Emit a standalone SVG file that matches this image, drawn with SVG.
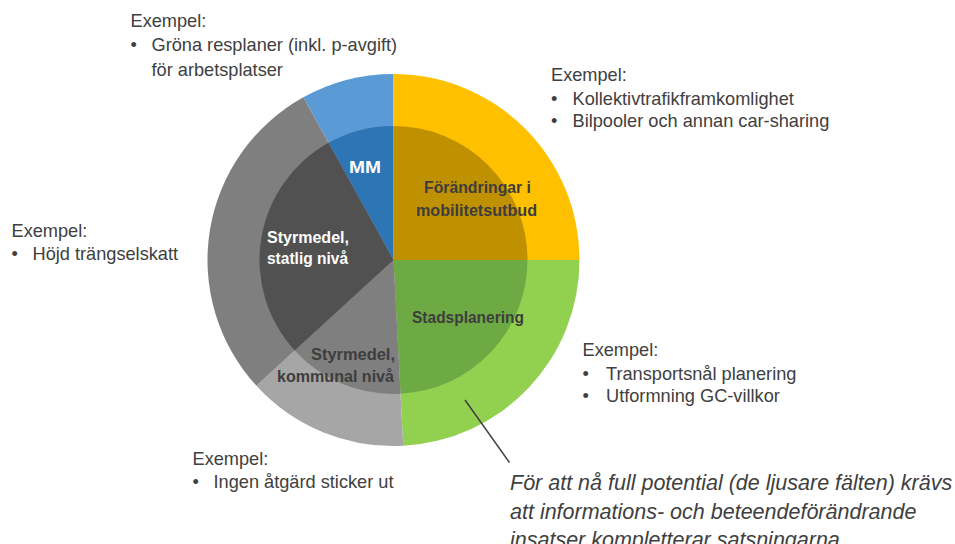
<svg xmlns="http://www.w3.org/2000/svg" width="955" height="544" viewBox="0 0 955 544">
  <style>
    .ex { font-family: "Liberation Sans", Arial, sans-serif; font-size: 18.2px; fill: #404040; }
    .lbl { font-family: "Liberation Sans", Arial, sans-serif; font-size: 16px; font-weight: bold; }
    .light { fill: #ffffff; }
    .dark { fill: #3d3d3d; }
    .note { font-family: "Liberation Sans", Arial, sans-serif; font-size: 21.5px; font-style: italic; fill: #404040; }
  </style>
  <rect width="955" height="544" fill="#ffffff"/>

  <!-- Two-ring pie: light outer wedges (full potential) and darker inner wedges -->
  <g id="mm">
    <path d="M393.5 260 L303.33 97.32 A186 186 0 0 1 393.5 74 Z" fill="#5b9bd5"/>
    <path d="M393.5 260 L328.54 142.8 A134 134 0 0 1 393.5 126 Z" fill="#2e75b6"/>
    <text class="lbl light" x="365" y="173" text-anchor="middle" textLength="32" lengthAdjust="spacingAndGlyphs">MM</text>
  </g>

  <g id="mobilitetsutbud">
    <path d="M393.5 260 L393.5 74 A186 186 0 0 1 579.5 260 Z" fill="#ffc000"/>
    <path d="M393.5 260 L393.5 126 A134 134 0 0 1 527.5 260 Z" fill="#bf9000"/>
    <text class="lbl dark" x="477.5" y="193" text-anchor="middle" textLength="107" lengthAdjust="spacingAndGlyphs">Förändringar i</text>
    <text class="lbl dark" x="476.5" y="215.5" text-anchor="middle" textLength="121" lengthAdjust="spacingAndGlyphs">mobilitetsutbud</text>
  </g>

  <g id="stadsplanering">
    <path d="M393.5 260 L579.5 260 A186 186 0 0 1 403.24 445.75 Z" fill="#92d050"/>
    <path d="M393.5 260 L527.5 260 A134 134 0 0 1 400.51 393.82 Z" fill="#6eaa44"/>
    <text class="lbl dark" x="468" y="323" text-anchor="middle" textLength="112" lengthAdjust="spacingAndGlyphs">Stadsplanering</text>
  </g>

  <g id="styrmedel-kommunal">
    <path d="M393.5 260 L403.24 445.75 A186 186 0 0 1 256.37 385.66 Z" fill="#a6a6a6"/>
    <path d="M393.5 260 L400.51 393.82 A134 134 0 0 1 294.7 350.53 Z" fill="#7f7f7f"/>
    <text class="lbl dark" x="353" y="360" text-anchor="middle" textLength="84" lengthAdjust="spacingAndGlyphs">Styrmedel,</text>
    <text class="lbl dark" x="335.5" y="381.5" text-anchor="middle" textLength="117" lengthAdjust="spacingAndGlyphs">kommunal nivå</text>
  </g>

  <g id="styrmedel-statlig">
    <path d="M393.5 260 L256.37 385.66 A186 186 0 0 1 303.33 97.32 Z" fill="#7f7f7f"/>
    <path d="M393.5 260 L294.7 350.53 A134 134 0 0 1 328.54 142.8 Z" fill="#515151"/>
    <text class="lbl light" x="308" y="242.5" text-anchor="middle" textLength="82" lengthAdjust="spacingAndGlyphs">Styrmedel,</text>
    <text class="lbl light" x="307.5" y="263.5" text-anchor="middle" textLength="81" lengthAdjust="spacingAndGlyphs">statlig nivå</text>
  </g>

  <!-- Example lists beside each wedge -->
  <g id="ex-mm">
    <text class="ex" x="130.5" y="26.5">Exempel:</text>
    <text class="ex" x="130.5" y="50.5">•</text>
    <text class="ex" x="151.5" y="50.5">Gröna resplaner (inkl. p-avgift)</text>
    <text class="ex" x="151.5" y="76">för arbetsplatser</text>
  </g>
  <g id="ex-mobilitet">
    <text class="ex" x="551" y="80.5">Exempel:</text>
    <text class="ex" x="551" y="105">•</text>
    <text class="ex" x="572.5" y="105">Kollektivtrafikframkomlighet</text>
    <text class="ex" x="551" y="127">•</text>
    <text class="ex" x="572.5" y="127">Bilpooler och annan car-sharing</text>
  </g>
  <g id="ex-statlig">
    <text class="ex" x="11.5" y="237">Exempel:</text>
    <text class="ex" x="11.5" y="260">•</text>
    <text class="ex" x="32.5" y="260">Höjd trängselskatt</text>
  </g>
  <g id="ex-stad">
    <text class="ex" x="582.5" y="355.5">Exempel:</text>
    <text class="ex" x="582.5" y="380">•</text>
    <text class="ex" x="606" y="380">Transportsnål planering</text>
    <text class="ex" x="582.5" y="401.5">•</text>
    <text class="ex" x="606" y="401.5">Utformning GC-villkor</text>
  </g>
  <g id="ex-kommunal">
    <text class="ex" x="192.5" y="465">Exempel:</text>
    <text class="ex" x="192.5" y="488">•</text>
    <text class="ex" x="213.5" y="488">Ingen åtgärd sticker ut</text>
  </g>

  <!-- Callout line from the light field to the note -->
  <g id="connectors">
    <line x1="465" y1="400" x2="509.5" y2="462.5" stroke="#404040" stroke-width="1.5"/>
  </g>

  <g id="note">
    <text class="note" x="510" y="490">För att nå full potential (de ljusare fälten) krävs</text>
    <text class="note" x="510" y="518.5">att informations- och beteendeförändrande</text>
    <text class="note" x="510" y="547">insatser kompletterar satsningarna.</text>
  </g>
</svg>
